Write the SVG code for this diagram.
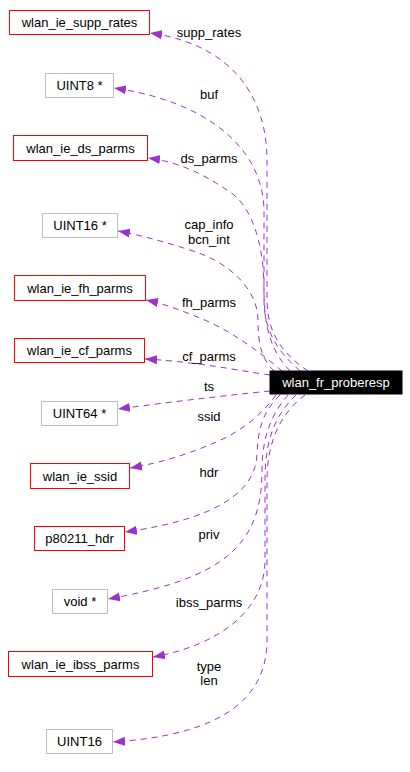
<svg xmlns="http://www.w3.org/2000/svg" width="410" height="772" viewBox="0 0 410 772">
<style>
text{font-family:"Liberation Sans",Arial,sans-serif;font-size:13px;fill:#000}
.n text{text-anchor:middle}
.cls{fill:#fff;stroke:#ff0000;stroke-width:1}
.typ{fill:#fff;stroke:#bfbfbf;stroke-width:1}
.e{fill:none;stroke:#9a32cd;stroke-width:1;stroke-dasharray:6,5;marker-end:url(#arr)}
.lbl{text-anchor:middle}
</style>
<defs>
<marker id="arr" markerUnits="userSpaceOnUse" markerWidth="14" markerHeight="10" refX="12" refY="5" orient="auto">
<path d="M0,0.5 L12,5 L0,9.5 z" fill="#9a32cd"/>
</marker>
</defs>
<rect width="410" height="772" fill="#fff"/>
<g id="edges">
<path class="e" d="M308,371 C286,356 267,336 267,300 L267,160 C267,100 235,45 150,33"/>
<path class="e" d="M300,371 C282,355 264,335 264,300 L264,210 C263,150 210,102 114,88"/>
<path class="e" d="M290,371 C272,352 264,330 264,290 C264,240 250,205 230,192 C205,175 180,162 148,158"/>
<path class="e" d="M274,371 C262,360 258,345 258,320 C258,290 230,262 190,250 C165,242 140,235 118,231"/>
<path class="e" d="M282,371 C260,352 230,330 200,318 C180,310 165,304 146,300"/>
<path class="e" d="M270,375 C240,371 200,362 145,359"/>
<path class="e" d="M270,391 C230,395 170,402 118,409"/>
<path class="e" d="M276,395 C265,410 250,425 225,438 C195,452 165,462 130,468"/>
<path class="e" d="M280,395 C262,412 258,430 257,455 C255,495 210,520 125,532"/>
<path class="e" d="M288,395 C270,415 262,440 262,470 C262,545 225,578 108,599"/>
<path class="e" d="M296,395 C275,415 265,440 265,480 L265,560 C265,610 220,645 153,657"/>
<path class="e" d="M305,395 C282,412 267,440 267,480 L267,640 C267,700 220,735 113,742"/>
<text class="lbl" x="209" y="37">supp_rates</text>
<text class="lbl" x="209" y="99">buf</text>
<text class="lbl" x="209" y="163">ds_parms</text>
<text class="lbl" x="209" y="229">cap_info</text>
<text class="lbl" x="209" y="244">bcn_int</text>
<text class="lbl" x="209" y="307">fh_parms</text>
<text class="lbl" x="209" y="361">cf_parms</text>
<text class="lbl" x="209" y="391">ts</text>
<text class="lbl" x="209" y="421">ssid</text>
<text class="lbl" x="209" y="477">hdr</text>
<text class="lbl" x="209" y="539">priv</text>
<text class="lbl" x="209" y="607">ibss_parms</text>
<text class="lbl" x="209" y="671">type</text>
<text class="lbl" x="209" y="685">len</text>
</g>
<g id="main" class="n"><rect x="270" y="371" width="132" height="23" fill="#000" stroke="#000"/><text x="336" y="387" style="fill:#fff">wlan_fr_proberesp</text></g>
<g id="supp_rates" class="n"><rect class="cls" x="9.5" y="10.5" width="140" height="24"/><text x="79.5" y="27">wlan_ie_supp_rates</text></g>
<g id="uint8p" class="n"><rect class="typ" x="45.5" y="73.5" width="68" height="24"/><text x="79.5" y="90">UINT8 *</text></g>
<g id="ds_parms" class="n"><rect class="cls" x="13.5" y="135.5" width="134" height="25"/><text x="80.5" y="152.5">wlan_ie_ds_parms</text></g>
<g id="uint16p" class="n"><rect class="typ" x="42.5" y="213.5" width="75" height="24"/><text x="80" y="230">UINT16 *</text></g>
<g id="fh_parms" class="n"><rect class="cls" x="14.5" y="275.5" width="131" height="25"/><text x="80" y="292.5">wlan_ie_fh_parms</text></g>
<g id="cf_parms" class="n"><rect class="cls" x="14.5" y="338.5" width="130" height="24"/><text x="79.5" y="355">wlan_ie_cf_parms</text></g>
<g id="uint64p" class="n"><rect class="typ" x="41.5" y="401.5" width="76" height="24"/><text x="79.5" y="418">UINT64 *</text></g>
<g id="ssid" class="n"><rect class="cls" x="30.5" y="463.5" width="99" height="25"/><text x="80" y="480.5">wlan_ie_ssid</text></g>
<g id="hdr" class="n"><rect class="cls" x="34.5" y="526.5" width="90" height="24"/><text x="79.5" y="543">p80211_hdr</text></g>
<g id="voidp" class="n"><rect class="typ" x="52.5" y="589.5" width="55" height="24"/><text x="80" y="606">void *</text></g>
<g id="ibss" class="n"><rect class="cls" x="8.5" y="651.5" width="144" height="25"/><text x="80.5" y="668.5">wlan_ie_ibss_parms</text></g>
<g id="uint16" class="n"><rect class="typ" x="46.5" y="729.5" width="66" height="24"/><text x="79.5" y="746">UINT16</text></g>
</svg>
